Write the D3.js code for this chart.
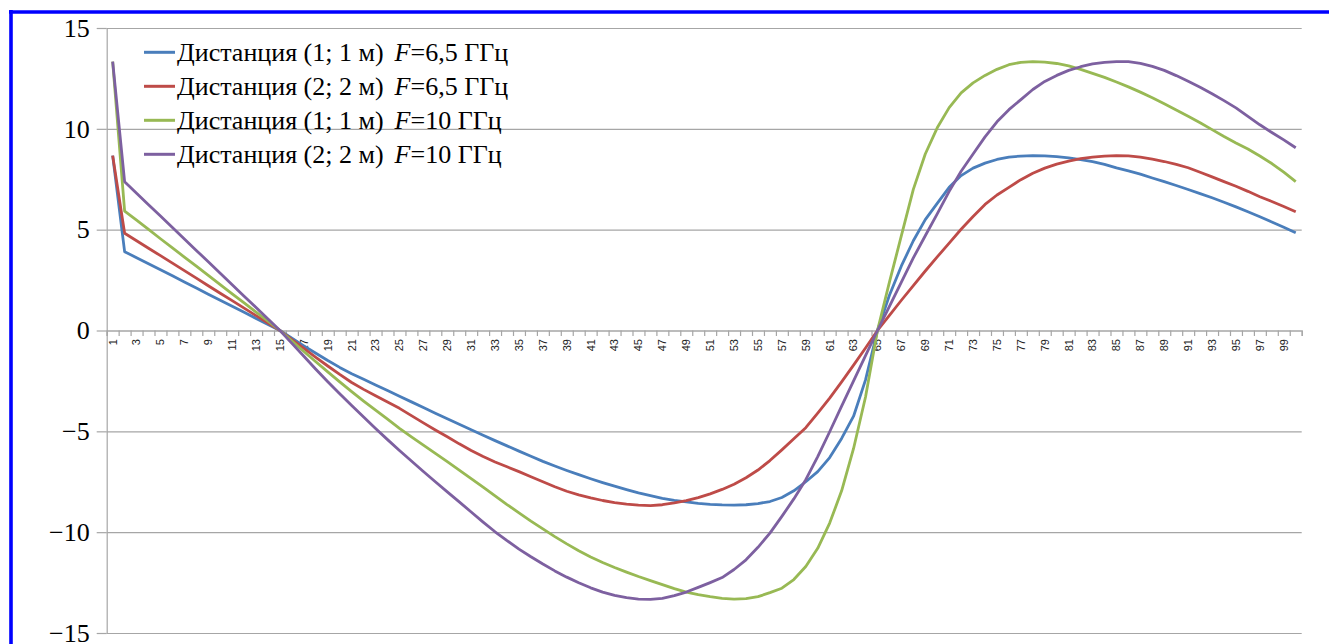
<!DOCTYPE html>
<html>
<head>
<meta charset="utf-8">
<script src="https://cdn.jsdelivr.net/npm/d3@7"></script>
<style>
body { margin: 0; background: #fff; }
svg { display: block; }
</style>
</head>
<body>
<div id="chart"></div>
<script>
// categories on the x axis: sample number 1..100
var categories = d3.range(1, 101);

var dist1F65 = [8.67, 3.91, 3.61, 3.31, 3.01, 2.71, 2.41, 2.11, 1.80, 1.50,
    1.20, 0.90, 0.60, 0.30, 0.00, -0.38, -0.76, -1.13, -1.49, -1.83,
    -2.14, -2.42, -2.70, -2.98, -3.26, -3.54, -3.82, -4.10, -4.38, -4.65,
    -4.92, -5.19, -5.46, -5.72, -5.98, -6.24, -6.49, -6.72, -6.94, -7.15,
    -7.35, -7.54, -7.72, -7.89, -8.05, -8.19, -8.32, -8.42, -8.50, -8.57,
    -8.62, -8.65, -8.66, -8.64, -8.58, -8.48, -8.28, -7.95, -7.50, -7.00,
    -6.30, -5.35, -4.25, -2.45, 0.00, 1.75, 3.20, 4.45, 5.50, 6.30,
    7.10, 7.68, 8.05, 8.30, 8.48, 8.60, 8.65, 8.67, 8.66, 8.62,
    8.56, 8.47, 8.37, 8.24, 8.06, 7.91, 7.75, 7.56, 7.38, 7.19,
    6.99, 6.79, 6.58, 6.36, 6.13, 5.89, 5.64, 5.38, 5.12, 4.85];

var dist2F65 = [8.67, 4.82, 4.45, 4.08, 3.71, 3.34, 2.97, 2.60, 2.22, 1.85,
    1.48, 1.11, 0.74, 0.37, 0.00, -0.45, -0.89, -1.33, -1.76, -2.18,
    -2.58, -2.92, -3.24, -3.55, -3.86, -4.22, -4.58, -4.93, -5.27, -5.62,
    -5.95, -6.25, -6.52, -6.76, -7.00, -7.25, -7.50, -7.75, -7.97, -8.15,
    -8.30, -8.43, -8.53, -8.61, -8.66, -8.68, -8.64, -8.55, -8.44, -8.29,
    -8.10, -7.88, -7.62, -7.30, -6.92, -6.45, -5.92, -5.37, -4.82, -4.10,
    -3.35, -2.55, -1.72, -0.87, 0.00, 0.75, 1.50, 2.23, 2.95, 3.65,
    4.33, 5.02, 5.65, 6.25, 6.72, 7.10, 7.48, 7.80, 8.05, 8.25,
    8.40, 8.52, 8.60, 8.65, 8.67, 8.66, 8.60, 8.50, 8.38, 8.24,
    8.07, 7.85, 7.62, 7.38, 7.15, 6.90, 6.63, 6.40, 6.15, 5.89];

var dist1F10 = [13.33, 5.92, 5.47, 5.01, 4.55, 4.10, 3.64, 3.19, 2.73, 2.28,
    1.82, 1.37, 0.91, 0.46, 0.00, -0.52, -1.04, -1.55, -2.05, -2.55,
    -3.03, -3.50, -3.95, -4.40, -4.85, -5.27, -5.68, -6.09, -6.50, -6.92,
    -7.34, -7.77, -8.20, -8.63, -9.04, -9.45, -9.84, -10.22, -10.58, -10.92,
    -11.23, -11.50, -11.75, -11.98, -12.20, -12.40, -12.60, -12.80, -12.97, -13.10,
    -13.20, -13.28, -13.32, -13.30, -13.20, -13.00, -12.78, -12.35, -11.70, -10.80,
    -9.55, -7.95, -5.85, -3.30, 0.00, 2.40, 4.70, 7.00, 8.75, 10.05,
    11.05, 11.78, 12.28, 12.65, 12.95, 13.18, 13.30, 13.33, 13.31, 13.24,
    13.12, 12.95, 12.75, 12.55, 12.32, 12.08, 11.82, 11.54, 11.24, 10.93,
    10.62, 10.30, 9.96, 9.62, 9.30, 9.00, 8.65, 8.28, 7.85, 7.38];

var dist2F10 = [13.33, 7.38, 6.81, 6.24, 5.68, 5.11, 4.54, 3.97, 3.41, 2.84,
    2.27, 1.70, 1.14, 0.57, 0.00, -0.64, -1.28, -1.92, -2.54, -3.14,
    -3.72, -4.29, -4.86, -5.41, -5.95, -6.47, -6.99, -7.50, -8.00, -8.50,
    -9.00, -9.50, -9.98, -10.42, -10.84, -11.22, -11.58, -11.92, -12.23, -12.51,
    -12.76, -12.97, -13.13, -13.25, -13.32, -13.33, -13.28, -13.15, -12.97, -12.74,
    -12.50, -12.25, -11.85, -11.37, -10.75, -10.05, -9.22, -8.35, -7.40, -6.25,
    -5.02, -3.75, -2.50, -1.25, 0.00, 1.20, 2.40, 3.60, 4.70, 5.78,
    6.90, 7.90, 8.75, 9.60, 10.35, 10.95, 11.45, 11.95, 12.35, 12.65,
    12.90, 13.08, 13.22, 13.30, 13.33, 13.33, 13.25, 13.10, 12.90, 12.64,
    12.36, 12.06, 11.74, 11.40, 11.04, 10.62, 10.20, 9.82, 9.45, 9.06];

// legend labels: distance part, then the italic F and the frequency
var seriesNames = ["Дистанция (1; 1 м)", "Дистанция (2; 2 м)", "Дистанция (1; 1 м)", "Дистанция (2; 2 м)"];
var seriesFreqs = ["=6,5 ГГц", "=6,5 ГГц", "=10 ГГц", "=10 ГГц"];
var seriesValues = [dist1F65, dist2F65, dist1F10, dist2F10];
var seriesColors = ["#4a7ebb", "#be4b48", "#98b954", "#7d60a0"];

var yTicks = [-15, -10, -5, 0, 5, 10, 15];
var xLabels = categories.filter(d => d % 2 == 1);

var width = 1329, height = 644;
var plot = { left: 106.7, right: 1301.7, top: 28, bottom: 633 };
var gridColor = "#a6a6a6";
var serif = "'Liberation Serif', 'Times New Roman', serif";

var svg = d3.select("#chart").append("svg")
    .attr("width", width)
    .attr("height", height);

// blue frame on the left and top edges
svg.append("line")
    .attr("x1", 11).attr("x2", 11).attr("y1", 10).attr("y2", height)
    .attr("stroke", "#0000ff").attr("stroke-width", 3.6);
svg.append("line")
    .attr("x1", 9).attr("x2", width).attr("y1", 12).attr("y2", 12)
    .attr("stroke", "#0000ff").attr("stroke-width", 3.6);

var x = d3.scaleBand()
    .domain(categories)
    .range([plot.left, plot.right])
    .padding(0);

// linear copy of x used for the tick marks on category boundaries
var xEdges = d3.scaleLinear()
    .domain([0, categories.length])
    .range([plot.left, plot.right]);

var y = d3.scaleLinear()
    .domain([-15, 15])
    .range([plot.bottom, plot.top]);

// horizontal gridlines
svg.append("g")
    .attr("transform", "translate(" + plot.left + ",0)")
    .call(d3.axisRight(y).tickValues(yTicks).tickSize(plot.right - plot.left).tickFormat(""))
    .call(g => g.select(".domain").remove())
    .call(g => g.selectAll("line").attr("stroke", gridColor).attr("stroke-width", 1.2));

// y axis
var yAxis = svg.append("g")
    .attr("transform", "translate(" + plot.left + ",0)")
    .call(d3.axisLeft(y).tickValues(yTicks).tickSize(10).tickSizeOuter(0).tickPadding(7)
        .tickFormat(d => d < 0 ? "\u2212" + Math.abs(d) : d));
yAxis.select(".domain").attr("stroke", gridColor).attr("stroke-width", 1.2);
yAxis.selectAll("line").attr("stroke", gridColor).attr("stroke-width", 1.2);
yAxis.selectAll("text")
    .attr("fill", "#000")
    .style("font-family", serif)
    .style("font-size", "26px");

// x axis: tick marks on the band edges
var xTicks = svg.append("g")
    .attr("transform", "translate(0," + y(0) + ")")
    .call(d3.axisBottom(xEdges).tickValues(d3.range(0, categories.length + 1)).tickSize(5.5).tickFormat(""));
xTicks.select(".domain").attr("stroke", gridColor).attr("stroke-width", 1.2);
xTicks.selectAll("line").attr("stroke", gridColor).attr("stroke-width", 1.2);

// x labels, rotated, every second category
var xAxis = svg.append("g")
    .attr("transform", "translate(0," + y(0) + ")")
    .call(d3.axisBottom(x).tickValues(xLabels).tickSize(0));
xAxis.select(".domain").remove();
xAxis.selectAll("text")
    .attr("transform", "rotate(-90)")
    .attr("x", -8.5)
    .attr("y", 0)
    .attr("dy", "0.35em")
    .attr("text-anchor", "end")
    .attr("fill", "#222")
    .style("font-family", "'Liberation Sans', Arial, sans-serif")
    .style("font-size", "11px");

// series lines
var line = d3.line()
    .x((d, i) => x(categories[i]) + x.bandwidth() / 2)
    .y(d => y(d));

svg.append("g")
    .selectAll("path")
    .data(seriesValues)
    .join("path")
    .attr("d", line)
    .attr("fill", "none")
    .attr("stroke", (d, i) => seriesColors[i])
    .attr("stroke-width", 2.8)
    .attr("stroke-linejoin", "round");

// legend
var legend = svg.append("g")
    .attr("transform", "translate(144,52.3)");

var rows = legend.selectAll("g")
    .data(seriesNames)
    .join("g")
    .attr("transform", (d, i) => "translate(0," + i * 34 + ")");

rows.append("line")
    .attr("x1", 0).attr("x2", 31)
    .attr("stroke", (d, i) => seriesColors[i])
    .attr("stroke-width", 3);

var labels = rows.append("text")
    .attr("x", 33)
    .attr("dy", "0.35em")
    .attr("fill", "#000")
    .style("font-family", serif)
    .style("font-size", "26px");
labels.append("tspan").text(d => d);
labels.append("tspan").attr("dx", 11).style("font-style", "italic").text("F");
labels.append("tspan").text((d, i) => seriesFreqs[i]);
</script>
</body>
</html>
